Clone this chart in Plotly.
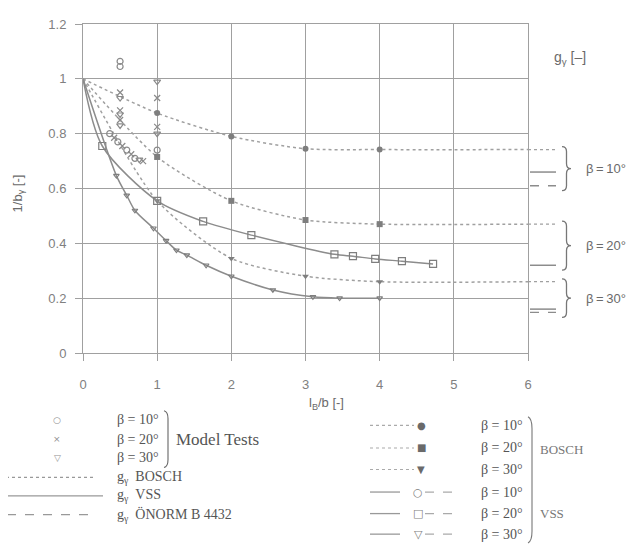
import plotly.graph_objects as go

# ---------------- data ----------------
bosch_x = [0, 1, 2, 3, 4, 6]
bosch10_y = [1.0, 0.875, 0.79, 0.745, 0.742, 0.742]
bosch20_y = [1.0, 0.715, 0.555, 0.485, 0.47, 0.47]
bosch30_y = [1.0, 0.555, 0.345, 0.28, 0.26, 0.26]

vss20_x = [0, 0.26, 1.0, 1.62, 2.27, 3.39, 3.64, 3.94, 4.3, 4.72]
vss20_y = [1.0, 0.755, 0.555, 0.48, 0.43, 0.36, 0.353, 0.343, 0.335, 0.325]
vss30_x = [0, 0.45, 0.59, 0.70, 0.95, 1.12, 1.26, 1.40, 1.66, 2.0, 2.56, 3.1, 3.46, 4.0]
vss30_y = [1.0, 0.647, 0.575, 0.52, 0.455, 0.41, 0.375, 0.357, 0.32, 0.28, 0.23, 0.205, 0.2, 0.2]

test10_x = [0.5, 0.5, 0.36, 0.47, 0.59, 0.70, 1.0]
test10_y = [1.064, 1.045, 0.80, 0.77, 0.74, 0.71, 0.74]
test20_x = [0.5, 0.5, 0.5, 0.42, 0.53, 0.65, 0.81, 1.0, 1.0]
test20_y = [0.95, 0.885, 0.85, 0.785, 0.755, 0.725, 0.70, 0.93, 0.825]
test30_x = [0.5, 0.5, 0.5, 0.76, 1.0, 1.0]
test30_y = [0.93, 0.87, 0.83, 0.705, 0.99, 0.80]

# limiting values indicated at the right edge (β = 10°, 20°, 30°)
beta_labels = ["β = 10°", "β = 20°", "β = 30°"]
asym_bosch = [bosch10_y[-1], bosch20_y[-1], bosch30_y[-1]]
asym_vss = [0.66, 0.32, 0.16]
asym_onorm = [0.61, None, 0.148]

x_ticks = [0, 1, 2, 3, 4, 5, 6]
y_ticks = [0, 0.2, 0.4, 0.6, 0.8, 1.0, 1.2]

# ---------------- geometry helpers ----------------
# the page places the figure 8px from the window corner; work in window pixels
W, H = 634, 550
OFF = 8
L, R, T, B = 83 - OFF, 528 - OFF, 17 - OFF, 353 - OFF   # plot area in figure pixels


def PX(p):  # window pixel -> paper x
    return (p - OFF - L) / (R - L)


def PY(p):  # window pixel -> paper y
    return (B - (p - OFF)) / (B - T)


def data_to_win_y(v):
    return B + OFF - (v - y_ticks[0]) / (y_ticks[-1] - y_ticks[0]) * (B - T)


GRID = "#a0a0a0"
LINE = "#8c8c8c"
MARK = "#7e7e7e"
TXT = "#6a6a6a"
SANS = "Liberation Sans"
SERIF = "Liberation Serif"
GLYPH = "DejaVu Sans"

fig = go.Figure()

# BOSCH (dotted)
bosch_sets = [(bosch10_y, "circle"), (bosch20_y, "square"), (bosch30_y, "triangle-down")]
for ys, sym in bosch_sets:
    fig.add_trace(go.Scatter(x=bosch_x, y=ys, mode="lines",
                             line=dict(color="#a0a0a0", width=1.5, dash="dot", shape="spline", smoothing=0.7),
                             showlegend=False, hoverinfo="skip"))
    fig.add_trace(go.Scatter(x=bosch_x[1:5], y=ys[1:5], mode="markers",
                             marker=dict(symbol=sym, color=MARK, size=6), showlegend=False))

# VSS (solid)
fig.add_trace(go.Scatter(x=vss20_x, y=vss20_y, mode="lines", line=dict(color=LINE, width=1.5, shape="spline", smoothing=0.8),
                         showlegend=False, hoverinfo="skip"))
fig.add_trace(go.Scatter(x=vss20_x[1:], y=vss20_y[1:], mode="markers",
                         marker=dict(symbol="square-open", color=MARK, size=7, line=dict(width=1.2)), showlegend=False))
fig.add_trace(go.Scatter(x=vss30_x, y=vss30_y, mode="lines", line=dict(color=LINE, width=1.5, shape="spline", smoothing=0.8),
                         showlegend=False, hoverinfo="skip"))
fig.add_trace(go.Scatter(x=vss30_x[1:], y=vss30_y[1:], mode="markers",
                         marker=dict(symbol="triangle-down-open", color=MARK, size=5, line=dict(width=1.1)), showlegend=False))

# Model tests
for xs, ys, sym in [(test10_x, test10_y, "circle-open"), (test20_x, test20_y, "x-thin-open"),
                    (test30_x, test30_y, "triangle-down-open")]:
    fig.add_trace(go.Scatter(x=xs, y=ys, mode="markers",
                             marker=dict(symbol=sym, color="#8a8a8a", size=6, line=dict(width=1.2, color="#8a8a8a")),
                             showlegend=False))

shapes = []
annotations = []


def glyph(ch, xp, yp, size=10, color="#808080"):
    annotations.append(dict(x=PX(xp), y=PY(yp), xref="paper", yref="paper", text=ch, showarrow=False,
                            xanchor="center", yanchor="middle", font=dict(family=GLYPH, size=size, color=color)))


# ---- right side: limiting values with braces ----
for i, lab in enumerate(beta_labels):
    vals = [v for v in (asym_bosch[i], asym_vss[i], asym_onorm[i]) if v is not None]
    shapes.append(dict(type="line", xref="paper", yref="y", x0=1.0, x1=PX(555), y0=asym_bosch[i], y1=asym_bosch[i],
                       line=dict(color="#a0a0a0", width=1.2, dash="dot")))
    shapes.append(dict(type="line", xref="paper", yref="y", x0=PX(530), x1=PX(556), y0=asym_vss[i], y1=asym_vss[i],
                       line=dict(color=LINE, width=1.5)))
    if asym_onorm[i] is not None:
        shapes.append(dict(type="line", xref="paper", yref="y", x0=PX(530), x1=PX(556), y0=asym_onorm[i],
                           y1=asym_onorm[i], line=dict(color=LINE, width=1.3, dash="dash")))
    yt = data_to_win_y(max(vals)) - 3
    yb = data_to_win_y(min(vals)) + 5
    ym = (yt + yb) / 2
    x0, w = 562, 9
    xm = x0 + w / 2
    path = (f"M {PX(x0)},{PY(yt)} Q {PX(xm)},{PY(yt)} {PX(xm)},{PY(yt + 5)} L {PX(xm)},{PY(ym - 5)} "
            f"Q {PX(xm)},{PY(ym)} {PX(x0 + w)},{PY(ym)} Q {PX(xm)},{PY(ym)} {PX(xm)},{PY(ym + 5)} "
            f"L {PX(xm)},{PY(yb - 5)} Q {PX(xm)},{PY(yb)} {PX(x0)},{PY(yb)}")
    shapes.append(dict(type="path", xref="paper", yref="paper", path=path, line=dict(color="#777", width=1.3)))
    annotations.append(dict(x=PX(584), y=PY(ym), xref="paper", yref="paper",
                            text=lab.replace(" ", "\u2009"), showarrow=False,
                            xanchor="left", yanchor="middle", font=dict(family=SANS, size=13, color=TXT)))

annotations.append(dict(x=PX(552), y=PY(52), xref="paper", yref="paper", text="g<sub>γ</sub> [–]",
                        showarrow=False, xanchor="left", yanchor="middle", font=dict(family=SANS, size=14, color=TXT)))

# axis titles
annotations.append(dict(x=PX(18), y=PY(190), xref="paper", yref="paper", text="1/b<sub>γ</sub> [-]", textangle=-90,
                        showarrow=False, xanchor="center", yanchor="middle", font=dict(family=SANS, size=13, color=TXT)))
annotations.append(dict(x=PX(326), y=PY(405), xref="paper", yref="paper", text="l<sub>B</sub>/b [-]",
                        showarrow=False, xanchor="center", yanchor="middle", font=dict(family=SANS, size=13, color=TXT)))

# ---- left legend ----
left_rows = [421, 441, 460, 480, 499, 518]
left_glyphs = ["○", "×", "▽"]
for i, lab in enumerate(beta_labels):
    annotations.append(dict(x=PX(115), y=PY(left_rows[i]), xref="paper", yref="paper", text=lab, showarrow=False,
                            xanchor="left", yanchor="middle", font=dict(family=SERIF, size=14, color="#555")))
    glyph(left_glyphs[i], 57, left_rows[i], size=9, color="#909090")
# bracket for model tests
bx = 164
shapes.append(dict(type="path", xref="paper", yref="paper",
                   path=f"M {PX(bx)},{PY(412)} Q {PX(bx + 4)},{PY(413)} {PX(bx + 4)},{PY(420)} L {PX(bx + 4)},{PY(462)} "
                        f"Q {PX(bx + 4)},{PY(469)} {PX(bx)},{PY(470)}",
                   line=dict(color="#666", width=1.1)))
annotations.append(dict(x=PX(174), y=PY(441), xref="paper", yref="paper", text="Model Tests", showarrow=False,
                        xanchor="left", yanchor="middle", font=dict(family=SERIF, size=17, color="#555")))
# line samples
for (row, dash, x0, x1) in [(left_rows[3], "dot", 0, 93), (left_rows[4], "solid", 7, 103), (left_rows[5], "dash", 7, 90)]:
    shapes.append(dict(type="line", xref="paper", yref="paper", x0=PX(x0), x1=PX(x1), y0=PY(row), y1=PY(row),
                       line=dict(color="#999", width=1.3, dash=dash)))
for row, name in [(left_rows[3], "BOSCH"), (left_rows[4], "VSS"), (left_rows[5], "ÖNORM B 4432")]:
    annotations.append(dict(x=PX(115), y=PY(row), xref="paper", yref="paper",
                            text=f"g<sub>γ</sub>  {name}", showarrow=False, xanchor="left", yanchor="middle",
                            font=dict(family=SERIF, size=14, color="#555")))

# ---- right legend ----
right_rows = [427, 450, 472, 495, 517, 538]
right_glyphs = ["●", "■", "▼", "○", "□", "▽"]
right_mx = [421, 421, 421, 418, 418, 418]
for i, row in enumerate(right_rows):
    annotations.append(dict(x=PX(479), y=PY(row), xref="paper", yref="paper", text=beta_labels[i % 3],
                            showarrow=False, xanchor="left", yanchor="middle",
                            font=dict(family=SERIF, size=14, color="#555")))
    if i < 3:
        shapes.append(dict(type="line", xref="paper", yref="paper", x0=PX(370), x1=PX(414), y0=PY(row), y1=PY(row),
                           line=dict(color="#aaa", width=1.2, dash="dot")))
    else:
        shapes.append(dict(type="line", xref="paper", yref="paper", x0=PX(370), x1=PX(400), y0=PY(row), y1=PY(row),
                           line=dict(color="#999", width=1.3)))
        shapes.append(dict(type="line", xref="paper", yref="paper", x0=PX(425), x1=PX(452), y0=PY(row), y1=PY(row),
                           line=dict(color="#aaa", width=1.2, dash="dash")))
    glyph(right_glyphs[i], right_mx[i], row, size=10 if i < 3 else 11, color="#6a6a6a" if i < 3 else "#808080")
rb = 528
shapes.append(dict(type="path", xref="paper", yref="paper",
                   path=f"M {PX(rb)},{PY(418)} Q {PX(rb + 4)},{PY(420)} {PX(rb + 4)},{PY(430)} L {PX(rb + 4)},{PY(535)} "
                        f"Q {PX(rb + 4)},{PY(545)} {PX(rb)},{PY(547)}",
                   line=dict(color="#777", width=1.1)))
annotations.append(dict(x=PX(538), y=PY(452), xref="paper", yref="paper", text="BOSCH", showarrow=False,
                        xanchor="left", yanchor="middle", font=dict(family=SERIF, size=13, color="#777")))
annotations.append(dict(x=PX(538), y=PY(517), xref="paper", yref="paper", text="VSS", showarrow=False,
                        xanchor="left", yanchor="middle", font=dict(family=SERIF, size=13, color="#777")))

fig.update_layout(
    width=W, height=H,
    margin=dict(l=L, r=W - R, t=T, b=H - B, pad=0),
    paper_bgcolor="white", plot_bgcolor="white",
    showlegend=False,
    shapes=shapes, annotations=annotations,
    xaxis=dict(range=[x_ticks[0], x_ticks[-1]], tickvals=x_ticks, showgrid=True, gridcolor=GRID, gridwidth=1,
               zeroline=False, showline=True, linecolor=GRID, linewidth=1, mirror=True,
               ticks="outside", ticklen=7, tickcolor=GRID, ticklabelstandoff=12,
               tickfont=dict(family=SANS, size=13, color="#808080")),
    yaxis=dict(range=[y_ticks[0], y_ticks[-1]], tickvals=y_ticks, showgrid=True, gridcolor=GRID, gridwidth=1,
               zeroline=False, showline=True, linecolor=GRID, linewidth=1, mirror=True,
               ticks="outside", ticklen=7, tickcolor=GRID, ticklabelstandoff=6,
               tickfont=dict(family=SANS, size=13, color="#808080")),
)

fig.write_html("out.html")
